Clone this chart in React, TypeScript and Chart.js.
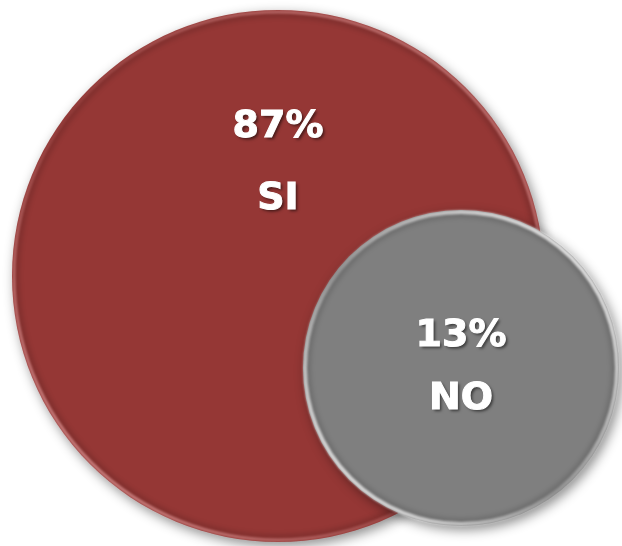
import React, { useEffect, useRef } from "react";
import { Chart, registerables } from "chart.js";

Chart.register(...registerables);

// Data
const categories = ["SI", "NO"];
const percentValues = [87, 13];
// Bubble layout (chart data coordinates for the bubble series)
const bubbleX = [278, 461];
const bubbleY = [276, 368];
const bubbleR = [266, 158];

// Styles
const fillColors = ["#953735", "#7f7f7f"];
const rimColors = ["rgba(255,190,190,", "rgba(255,255,255,"];
const labelOffsets = [
  [-0.56, -0.29],
  [-0.2, 0.2],
];

const rimPlugin = {
  id: "rimAndLabels",
  beforeDatasetDraw(chart: any) {
    const ctx = chart.ctx;
    ctx.save();
    ctx.shadowColor = "rgba(0,0,0,0.45)";
    ctx.shadowBlur = 12;
    ctx.shadowOffsetX = 3;
    ctx.shadowOffsetY = 4;
  },
  afterDatasetDraw(chart: any, args: any) {
    const ctx = chart.ctx;
    ctx.restore();
    const i = args.index;
    const meta = chart.getDatasetMeta(i);
    const el = meta.data[0];
    if (!el) return;
    const { x, y } = el;
    const r = bubbleR[i];
    const base = rimColors[i];
    ctx.save();
    ctx.beginPath();
    ctx.arc(x, y, r, 0, Math.PI * 2);
    ctx.clip();
    ctx.beginPath();
    ctx.arc(x, y, r - 5, 0, Math.PI * 2);
    ctx.lineWidth = 6;
    ctx.strokeStyle = "rgba(0,0,0,0.12)";
    ctx.filter = "blur(2px)";
    ctx.stroke();
    ctx.restore();
    ctx.save();
    const g = ctx.createLinearGradient(x - r, y + r, x + r, y - r);
    g.addColorStop(0, base + (i === 1 ? "0.95)" : "0.75)"));
    g.addColorStop(0.45, base + (i === 1 ? "0.2)" : "0.05)"));
    g.addColorStop(0.75, base + (i === 1 ? "0.6)" : "0.35)"));
    g.addColorStop(1, base + (i === 1 ? "0.95)" : "0.5)"));
    ctx.beginPath();
    ctx.arc(x, y, r - 2, 0, Math.PI * 2);
    ctx.lineWidth = i === 1 ? 4 : 3;
    ctx.strokeStyle = g;
    ctx.filter = "blur(1px)";
    ctx.stroke();
    ctx.restore();
  },
  afterDatasetsDraw(chart: any) {
    const ctx = chart.ctx;
    categories.forEach((_, i) => {
      const el = chart.getDatasetMeta(i).data[0];
      if (!el) return;
      const { x, y } = el;
      const r = bubbleR[i];
      const lines = [percentValues[i] + "%", categories[i]];
      ctx.save();
      ctx.font = "bold 38px 'DejaVu Sans', sans-serif";
      ctx.textAlign = "center";
      ctx.textBaseline = "middle";
      ctx.fillStyle = "#ffffff";
      ctx.strokeStyle = "#ffffff";
      ctx.lineWidth = 1;
      lines.forEach((t, k) => {
        const ty = y + labelOffsets[i][k] * r;
        ctx.shadowColor = "rgba(0,0,0,0.55)";
        ctx.shadowBlur = 3;
        ctx.shadowOffsetX = 2;
        ctx.shadowOffsetY = 2;
        ctx.fillText(t, x, ty);
        ctx.shadowColor = "transparent";
        ctx.strokeText(t, x, ty);
      });
      ctx.restore();
    });
  },
};

export default function App() {
  const canvasRef = useRef<HTMLCanvasElement | null>(null);
  useEffect(() => {
    document.body.style.margin = "0";
    const canvas = canvasRef.current;
    if (!canvas) return;
    const chart = new Chart(canvas, {
      type: "bubble",
      data: {
        datasets: categories.map((c, i) => ({
          label: c,
          data: [{ x: bubbleX[i], y: bubbleY[i], r: bubbleR[i] }],
          backgroundColor: fillColors[i],
          borderWidth: 0,
          hoverRadius: 0,
          hoverBorderWidth: 0,
          clip: false as any,
          order: categories.length - i,
        })),
      },
      options: {
        animation: false,
        responsive: true,
        maintainAspectRatio: false,
        layout: { padding: 0, autoPadding: false } as any,
        events: [],
        plugins: {
          legend: { display: false },
          tooltip: { enabled: false },
        },
        scales: {
          x: { type: "linear", min: 0, max: 622, display: false },
          y: { type: "linear", min: 0, max: 546, reverse: true, display: false },
        },
      },
      plugins: [rimPlugin],
    });
    return () => chart.destroy();
  }, []);
  return (
    <div style={{ width: 622, height: 546, position: "relative", background: "#fff" }}>
      <canvas ref={canvasRef} />
    </div>
  );
}
